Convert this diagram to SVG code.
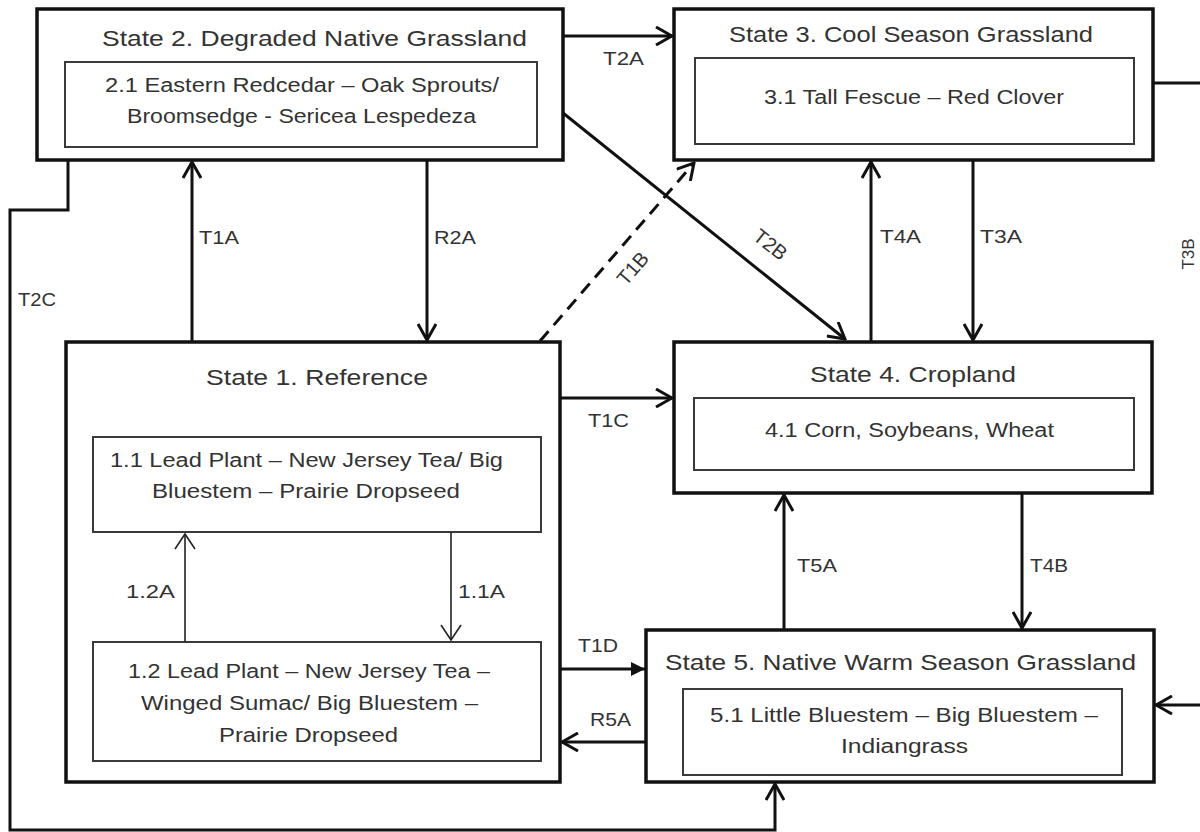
<svg xmlns="http://www.w3.org/2000/svg" width="1200" height="832" viewBox="0 0 1200 832">
<style>
.outer{fill:#fff;stroke:#111;stroke-width:3.5}
.inner{fill:#fff;stroke:#3a3a3a;stroke-width:2}
.t{font-family:"Liberation Sans",Arial,sans-serif;fill:#333}
.title{font-size:22px}
.body{font-size:19.5px}
.lab{font-size:19px}
.c{fill:none;stroke:#111;stroke-width:3}
.thin{fill:none;stroke:#222;stroke-width:1.6}
</style>
<defs>
<marker id="open" markerUnits="userSpaceOnUse" viewBox="0 0 20 20" refX="18" refY="10" markerWidth="20" markerHeight="20" orient="auto">
<path d="M2,1 L18,10 L2,19" fill="none" stroke="#111" stroke-width="3"/>
</marker>
<marker id="openThin" markerUnits="userSpaceOnUse" viewBox="0 0 20 22" refX="17" refY="11" markerWidth="20" markerHeight="22" orient="auto">
<path d="M2,1 L17,11 L2,21" fill="none" stroke="#222" stroke-width="1.6"/>
</marker>
<marker id="solid" markerUnits="userSpaceOnUse" viewBox="0 0 14 14" refX="14" refY="7" markerWidth="14" markerHeight="14" orient="auto">
<path d="M0,0 L14,7 L0,14 Z" fill="#111"/>
</marker>
</defs>

<g id="state2">
<rect class="outer" x="37" y="9" width="526" height="151"/>
<text class="t title" x="102" y="46" textLength="425" lengthAdjust="spacingAndGlyphs">State 2. Degraded Native Grassland</text>
<rect class="inner" x="65" y="62" width="472" height="85"/>
<text class="t body" x="105" y="92" textLength="394" lengthAdjust="spacingAndGlyphs">2.1 Eastern Redcedar – Oak Sprouts/</text>
<text class="t body" x="127" y="123" textLength="349" lengthAdjust="spacingAndGlyphs">Broomsedge - Sericea Lespedeza</text>
</g>

<g id="state3">
<rect class="outer" x="674" y="9" width="479" height="151"/>
<text class="t title" x="729" y="42" textLength="364" lengthAdjust="spacingAndGlyphs">State 3. Cool Season Grassland</text>
<rect class="inner" x="695" y="58" width="439" height="86"/>
<text class="t body" x="764" y="104" textLength="300" lengthAdjust="spacingAndGlyphs">3.1 Tall Fescue – Red Clover</text>
</g>

<g id="state1">
<rect class="outer" x="66" y="342" width="494" height="440"/>
<text class="t title" x="206" y="385" textLength="222" lengthAdjust="spacingAndGlyphs">State 1. Reference</text>
<g id="phase1_1">
<rect class="inner" x="93" y="437" width="448" height="95"/>
<text class="t body" x="110" y="467" textLength="393" lengthAdjust="spacingAndGlyphs">1.1 Lead Plant – New Jersey Tea/ Big</text>
<text class="t body" x="152" y="498" textLength="308" lengthAdjust="spacingAndGlyphs">Bluestem – Prairie Dropseed</text>
</g>
<g id="phase1_2">
<rect class="inner" x="93" y="642" width="448" height="119"/>
<text class="t body" x="128" y="678" textLength="362" lengthAdjust="spacingAndGlyphs">1.2 Lead Plant – New Jersey Tea –</text>
<text class="t body" x="141" y="710" textLength="337" lengthAdjust="spacingAndGlyphs">Winged Sumac/ Big Bluestem –</text>
<text class="t body" x="219" y="742" textLength="179" lengthAdjust="spacingAndGlyphs">Prairie Dropseed</text>
</g>
</g>

<g id="state4">
<rect class="outer" x="674" y="342" width="478" height="151"/>
<text class="t title" x="810" y="382" textLength="206" lengthAdjust="spacingAndGlyphs">State 4. Cropland</text>
<rect class="inner" x="694" y="398" width="440" height="72"/>
<text class="t body" x="765" y="437" textLength="289" lengthAdjust="spacingAndGlyphs">4.1 Corn, Soybeans, Wheat</text>
</g>

<g id="state5">
<rect class="outer" x="646" y="630" width="508" height="152"/>
<text class="t title" x="665" y="670" textLength="471" lengthAdjust="spacingAndGlyphs">State 5. Native Warm Season Grassland</text>
<rect class="inner" x="683" y="689" width="439" height="86"/>
<text class="t body" x="710" y="722" textLength="388" lengthAdjust="spacingAndGlyphs">5.1 Little Bluestem – Big Bluestem –</text>
<text class="t body" x="841" y="753" textLength="127" lengthAdjust="spacingAndGlyphs">Indiangrass</text>
</g>

<g id="connectors">
<path class="c" d="M563,36 H672" marker-end="url(#open)"/>
<path class="c" d="M563,113 L845,339" marker-end="url(#open)"/>
<path class="c" d="M540,341 L694,163" stroke-dasharray="13,8" marker-end="url(#open)"/>
<path class="c" d="M192,342 V162" marker-end="url(#open)"/>
<path class="c" d="M427,160 V340" marker-end="url(#open)"/>
<path class="c" d="M871,341 V162" marker-end="url(#open)"/>
<path class="c" d="M973,160 V340" marker-end="url(#open)"/>
<path class="c" d="M560,398 H672" marker-end="url(#open)"/>
<path class="c" d="M784,630 V495" marker-end="url(#open)"/>
<path class="c" d="M1022,493 V628" marker-end="url(#open)"/>
<path class="c" d="M560,669 H645" marker-end="url(#solid)"/>
<path class="c" d="M646,742 H562" marker-end="url(#open)"/>
<path class="c" d="M68,160 V210 H10 V830 H775 V784" marker-end="url(#open)"/>
<path class="c" d="M1153,83 H1203 V705 H1156" marker-end="url(#open)"/>
<path class="thin" d="M185,642 V534" marker-end="url(#openThin)"/>
<path class="thin" d="M451,532 V640" marker-end="url(#openThin)"/>

<text class="t lab" x="603" y="65" textLength="41" lengthAdjust="spacingAndGlyphs">T2A</text>
<text class="t lab" x="199" y="244" textLength="40" lengthAdjust="spacingAndGlyphs">T1A</text>
<text class="t lab" x="434" y="244" textLength="42" lengthAdjust="spacingAndGlyphs">R2A</text>
<text class="t lab" x="18" y="306" textLength="38" lengthAdjust="spacingAndGlyphs">T2C</text>
<text class="t lab" x="880" y="243" textLength="41" lengthAdjust="spacingAndGlyphs">T4A</text>
<text class="t lab" x="980" y="243" textLength="42" lengthAdjust="spacingAndGlyphs">T3A</text>
<text class="t lab" text-anchor="middle" transform="translate(766,250) rotate(38.7)" style="font-size:20px">T2B</text>
<text class="t lab" text-anchor="middle" transform="translate(638,273) rotate(-49)" style="font-size:20px">T1B</text>
<text class="t lab" text-anchor="middle" transform="translate(1194,254) rotate(-90)" style="font-size:17px">T3B</text>
<text class="t lab" x="588" y="427" textLength="41" lengthAdjust="spacingAndGlyphs">T1C</text>
<text class="t lab" x="578" y="652" textLength="40" lengthAdjust="spacingAndGlyphs">T1D</text>
<text class="t lab" x="590" y="726" textLength="41" lengthAdjust="spacingAndGlyphs">R5A</text>
<text class="t lab" x="126" y="598" textLength="49" lengthAdjust="spacingAndGlyphs">1.2A</text>
<text class="t lab" x="458" y="598" textLength="47" lengthAdjust="spacingAndGlyphs">1.1A</text>
<text class="t lab" x="797" y="572" textLength="40" lengthAdjust="spacingAndGlyphs">T5A</text>
<text class="t lab" x="1030" y="572" textLength="38" lengthAdjust="spacingAndGlyphs">T4B</text>
</g>
</svg>
